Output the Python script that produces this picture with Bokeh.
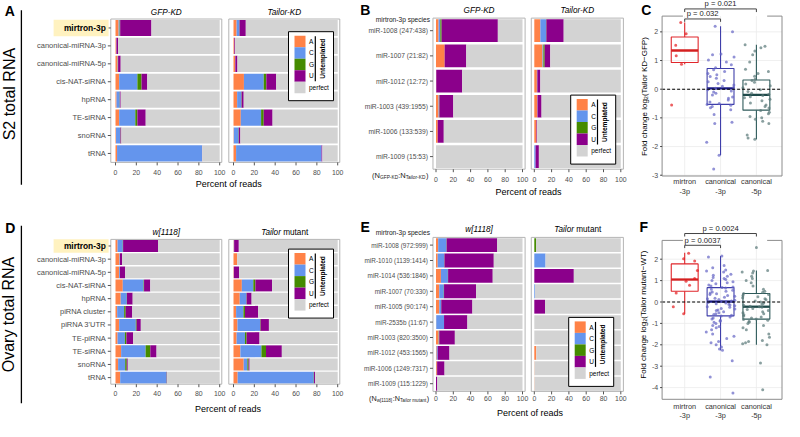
import math
from bokeh.plotting import figure
from bokeh.models import Range1d, ColumnDataSource
from bokeh.transform import jitter
from bokeh.embed import file_html
from bokeh.resources import INLINE
from bokeh.core.properties import value

# ---------------------------------------------------------------- data
s2_classes = ["mirtron-3p", "canonical-miRNA-3p", "canonical-miRNA-5p", "cis-NAT-siRNA",
              "hpRNA", "TE-siRNA", "snoRNA", "tRNA"]
s2_gfp_A = [3, 0.7, 2, 3.5, 1, 3.5, 0.5, 1.5]
s2_gfp_C = [1, 0.2, 0.3, 17.5, 3, 15.5, 4, 81.5]
s2_gfp_G = [0.5, 0, 0.2, 4, 0.2, 2, 0.3, 0]
s2_gfp_U = [30, 1.6, 2.5, 5.5, 0.8, 8, 0.8, 0.2]
s2_tkd_A = [3, 0.8, 1.5, 10, 3.5, 7, 0.3, 2.5]
s2_tkd_C = [2.5, 0, 0.3, 19, 4, 19.5, 4.5, 82]
s2_tkd_G = [0.3, 0, 0, 2.5, 0.3, 2.5, 0.3, 0]
s2_tkd_U = [6, 0.7, 2, 9.5, 2, 8.5, 1.5, 0.8]

s2_mirtrons = ["miR-1008 (247:438)", "miR-1007 (21:82)", "miR-1012 (12:72)",
               "miR-1003 (439:1955)", "miR-1006 (133:539)", "miR-1009 (15:53)"]
s2m_gfp_A = [3, 10, 0.3, 3, 2, 0]
s2m_gfp_C = [2, 0, 0, 0.5, 0, 0]
s2m_gfp_G = [1.5, 0, 0, 0.5, 0, 0]
s2m_gfp_U = [65, 25, 30, 16, 7, 0]
s2m_tkd_A = [7, 9.5, 3, 3.4, 2.5, 0]
s2m_tkd_C = [6.5, 1, 0.5, 0.3, 0, 1.5]
s2m_tkd_G = [0.5, 1.5, 0, 0, 0, 0]
s2m_tkd_U = [20, 6.5, 3.5, 4.7, 0.8, 3.8]

ov_classes = ["mirtron-3p", "canonical-miRNA-3p", "canonical-miRNA-5p", "cis-NAT-siRNA",
              "hpRNA", "piRNA cluster", "piRNA 3'UTR", "TE-piRNA", "TE-siRNA", "snoRNA", "tRNA"]
ov_wt_A = [2, 3.8, 3.5, 7, 5, 1.6, 3.5, 2, 5.4, 2.5, 4.5]
ov_wt_C = [5, 0.5, 0.8, 20, 5.8, 6.7, 16, 7, 23.5, 6.8, 44.5]
ov_wt_G = [0.3, 0, 0, 0.4, 0.2, 1.5, 0.8, 1.5, 4.5, 1.5, 0.2]
ov_wt_U = [33.5, 2, 5, 6, 5.5, 6.3, 4, 6.5, 6, 1, 0.3]
ov_tm_A = [0.3, 3.5, 0.3, 8, 6, 2.5, 3.8, 3, 6.6, 9.8, 4]
ov_tm_C = [0.3, 0, 0, 11, 6.3, 7, 21.7, 8, 20.2, 3.5, 73]
ov_tm_G = [0, 0, 0, 2, 0.3, 1.5, 0.5, 1.6, 4.4, 1.2, 0.3]
ov_tm_U = [4.5, 0, 5, 16, 4.8, 12.7, 8, 12.4, 15.2, 1, 1]

ov_mirtrons = ["miR-1008 (972:999)", "miR-1010 (1139:1414)", "miR-1014 (536:1846)",
               "miR-1007 (70:330)", "miR-1005 (90:174)", "miR-2535b (11:67)",
               "miR-1003 (820:3500)", "miR-1012 (453:1565)", "miR-1006 (1249:7317)",
               "miR-1009 (115:1229)"]
ovm_wt_A = [2.5, 2, 5.7, 3.8, 3.8, 0.3, 3, 0.8, 1, 0]
ovm_wt_C = [9.5, 7.5, 8, 5.2, 2, 9, 0.3, 1.2, 0.3, 0]
ovm_wt_G = [0.3, 0.3, 0.3, 0.3, 0.3, 0, 0.5, 0, 0, 0]
ovm_wt_U = [58.5, 57, 51.6, 37, 36, 27, 18, 13.6, 8.6, 1.5]
ovm_tm_A = [0, 0, 0, 0, 0, 0, 0, 2.3, 0.3, 0.3]
ovm_tm_C = [0, 13, 0, 0.8, 0, 0, 0, 0, 0, 0]
ovm_tm_G = [2, 0, 0, 0, 0, 0, 0, 0, 0, 0]
ovm_tm_U = [0, 0, 45.7, 0, 12.4, 0, 0, 0, 0, 0]

pct_ticks = [0, 20, 40, 60, 80, 100]
box_groups_1 = ["mirtron", "canonical", "canonical"]
box_groups_2 = ["-3p", "-3p", "-5p"]

# C: log2(Tailor KD / GFP)
c_mirtron = [2.33, 1.93, 1.53, 1.17, 0.87, -0.55]
c_canon3 = [2.2, 2.0, 1.23, 1.2, 1.12, 1.02, 0.95, 0.85, 0.75, 0.68, 0.62, 0.55, 0.5, 0.44,
            0.38, 0.3, 0.26, 0.2, 0.15, 0.1, 0.06, 0.03, -0.02, -0.06, -0.1, -0.14, -0.2,
            -0.27, -0.32, -0.38, -0.45, -0.5, -0.53, -0.56, -0.6, -0.65, -0.72, -0.88,
            -1.15, -1.2, -1.85, -2.3, -2.78]
c_canon5 = [1.55, 1.5, 1.45, 1.33, 1.2, 0.95, 0.7, 0.62, 0.55, 0.45, 0.35, 0.3, 0.24, 0.18,
            0.12, 0.05, -0.02, -0.08, -0.14, -0.18, -0.22, -0.26, -0.3, -0.35, -0.4, -0.48,
            -0.55, -0.6, -0.66, -0.74, -0.8, -0.86, -0.95, -1.0, -1.05, -1.12, -1.2, -1.6,
            -1.7, -1.75]
c_q1 = [0.93, -0.53, -0.73]
c_med = [1.35, 0.03, -0.2]
c_q3 = [1.82, 0.72, 0.32]
c_lo = [0.87, -2.3, -1.75]
c_hi = [2.33, 2.2, 1.55]
c_yticks = [-3, -2, -1, 0, 1, 2]
c_pvals = ["p = 0.032", "p = 0.021"]

# F: log2(Tailor mutant / WT)
f_mirtron = [2.28, 2.02, 1.92, 1.47, 1.1, 0.97, 0.78, 0.42, -0.22, -0.55]
f_canon3 = [2.15, 2.1, 1.7, 1.6, 1.5, 1.45, 1.4, 1.3, 1.25, 1.2, 1.15, 1.1, 1.05, 1.0, 0.95,
            0.9, 0.85, 0.8, 0.75, 0.7, 0.68, 0.65, 0.6, 0.55, 0.5, 0.47, 0.42, 0.38, 0.35,
            0.3, 0.27, 0.22, 0.18, 0.15, 0.12, 0.08, 0.05, 0.03, 0.01, -0.02, -0.05, -0.08,
            -0.1, -0.14, -0.18, -0.22, -0.25, -0.3, -0.33, -0.37, -0.4, -0.45, -0.5, -0.55,
            -0.58, -0.62, -0.66, -0.7, -0.75, -0.8, -0.85, -0.9, -0.95, -1.0, -1.1, -1.15,
            -1.2, -1.3, -1.4, -1.5, -1.6, -1.7, -1.85, -1.9, -2.0, -2.1, -2.2, -2.25,
            -2.75, -3.5, -4.25]
f_canon5 = [2.55, 1.47, 1.45, 1.4, 1.35, 1.2, 1.1, 1.0, 0.9, 0.75, 0.6, 0.5, 0.45, 0.4,
            0.35, 0.3, 0.25, 0.2, 0.15, 0.1, 0.05, 0.0, -0.05, -0.1, -0.15, -0.2, -0.22,
            -0.25, -0.3, -0.35, -0.4, -0.45, -0.5, -0.55, -0.6, -0.65, -0.7, -0.75, -0.8,
            -0.82, -0.85, -0.9, -0.95, -1.0, -1.1, -1.2, -1.3, -1.5, -1.65, -1.8, -1.85,
            -1.9, -1.95, -2.0, -2.85, -4.1]
f_q1 = [0.5, -0.65, -0.8]
f_med = [1.05, 0.02, -0.22]
f_q3 = [1.78, 0.67, 0.4]
f_lo = [-0.55, -2.25, -2.0]
f_hi = [2.3, 2.15, 1.47]
f_yticks = [-4, -3, -2, -1, 0, 1, 2]
f_pvals = ["p = 0.0037", "p = 0.0024"]

# ---------------------------------------------------------------- style
FONT = "Liberation Sans"
NUCS = ["A", "C", "G", "U"]
NUC_COLORS = ["#FF8247", "#6495ED", "#458B00", "#8B008B"]
PERFECT_COLOR = "#D3D3D3"
FRAME = "#b4b4b4"
BOXFRAME = "#8c8c8c"
TICK_TEXT = "#4D4D4D"
HILITE = "#FFF2C0"
BOX_LINE = ["#E0262B", "#3F3FAA", "#2E5A5A"]
BOX_MED = ["#D42020", "#1C1C8A", "#1E4A4A"]
PT_COL = ["#E41A1C", "#6464C4", "#587878"]

AFM = {' ': 278, '(': 333, ')': 333, ':': 278, '[': 278, ']': 278, '-': 333, 'N': 722,
       'G': 778, 'F': 611, 'P': 667, 'K': 667, 'D': 722, 'T': 611, 'a': 556, 'i': 222,
       'l': 222, 'o': 556, 'r': 333, 'w': 722, 'm': 833, 'u': 556, 't': 278, 'n': 556}

W, H = 784, 421
# one canvas; the default ranges are page pixels (y downwards), every panel gets
# its own named ranges so that its data go through Bokeh's own scales
p = figure(width=W, height=H, title=None, x_range=Range1d(0, W), y_range=Range1d(H, 0),
           x_axis_type=None, y_axis_type=None, output_backend="svg",
           toolbar_location=None, min_border=0)
p.outline_line_color = None
p.background_fill_color = "white"
p.border_fill_color = "white"


def text_w(s, size):
    return sum(AFM.get(ch, 556) for ch in s) * size / 1000.0


def add_x_range(name, d0, d1, px0, px1):
    s = (d1 - d0) / (px1 - px0)
    start = d0 - px0 * s
    p.extra_x_ranges[name] = Range1d(start, start + W * s)


def add_y_range(name, v0, v1, py0, py1):
    s = (v1 - v0) / (py1 - py0)
    at = lambda py: v0 + (py - py0) * s
    p.extra_y_ranges[name] = Range1d(at(H), at(0))


def as_list(v, n=None):
    v = v if isinstance(v, list) else [v]
    if n is not None and len(v) == 1:
        v = v * n
    return v


def T(xs, ys, texts, size, xr="default", yr="default", align="left", base="middle",
      style="normal", color="black", angle=0.0):
    texts = as_list(texts)
    n = len(texts)
    p.text(x=as_list(xs, n), y=as_list(ys, n), text=texts, text_font=value(FONT),
           text_font_size=f"{size}px", text_align=align, text_baseline=base,
           text_font_style=style, text_color=color, angle=angle,
           x_range_name=xr, y_range_name=yr)


def nuc_legend(lx, ly):
    LW, LH, sq = 45, 69, 11.5
    p.quad(left=[lx], right=[lx + LW], top=[ly], bottom=[ly + LH], fill_color="white",
           line_color="black", line_width=1)
    tops = [ly + 4 + i * sq for i in range(5)]
    p.quad(left=[lx + 6] * 5, right=[lx + 17] * 5, top=tops, bottom=[t + sq for t in tops],
           fill_color=NUC_COLORS + [PERFECT_COLOR], line_color=None)
    T(lx + 20.5, [t + sq / 2 for t in tops], NUCS + ["perfect"], 6.5)
    p.segment(x0=[lx + 26.8], y0=[ly + 4.5], x1=[lx + 26.8], y1=[ly + 4 + 4 * sq - 0.5],
              line_color="black", line_width=1.2)
    T(lx + 33.6, ly + 4 + 2 * sq, "Untemplated", 6.6, align="center", style="bold",
      angle=math.pi / 2)


def add_bars(n, vals, offset, xr, yr):
    ys, ls, rs, cs = [], [], [], []
    for i in range(n):
        parts = [v[i] for v in vals]
        parts.append(100 - sum(parts))
        cum = 0.0
        for val, col in zip(parts, NUC_COLORS + [PERFECT_COLOR]):
            if val > 0:
                ys.append(n - 1 - i)
                ls.append(offset + cum)
                rs.append(offset + cum + val)
                cs.append(col)
            cum += val
    p.hbar(y=ys, left=ls, right=rs, height=0.9, fill_color=cs, line_color=None,
           x_range_name=xr, y_range_name=yr)


def bar_pair(key, cats, vals1, vals2, k, z1, z2, top, bot, fr, cat_size, cat_right,
             tick_py, pct_xy, title_py, titles, legend_xy, hl=None):
    n = len(cats)
    xr, yr = key + "x", key + "y"
    add_x_range(xr, 0, 100, z1, z1 + 100 * k)
    rowpx = (bot - top) / n
    add_y_range(yr, n - 0.5, -0.5, top, bot)
    off2 = (z2 - z1) / k
    offs = [0.0, off2]
    add_bars(n, vals1, offs[0], xr, yr)
    add_bars(n, vals2, offs[1], xr, yr)
    p.quad(left=[o + fr[0] for o in offs], right=[o + fr[1] for o in offs],
           bottom=[-0.5, -0.5], top=[n - 0.5, n - 0.5], fill_color=None,
           line_color=FRAME, line_width=1, x_range_name=xr, y_range_name=yr)
    # percent axis of both sub-panels
    tx = [o + t for o in offs for t in pct_ticks]
    p.segment(x0=tx, y0=[bot] * len(tx), x1=tx, y1=[bot + 3] * len(tx),
              line_color="#555555", line_width=1, x_range_name=xr)
    T(tx, tick_py, [str(t) for o in offs for t in pct_ticks], 6.9, xr=xr, align="center",
      color=TICK_TEXT)
    T(pct_xy[0], pct_xy[1], "Percent of reads", 9, align="center")
    # category axis of the left sub-panel
    rows = [n - 1 - i for i in range(n)]
    fl = z1 + fr[0] * k
    p.segment(x0=[fl] * n, y0=rows, x1=[fl - 3] * n, y1=rows, line_color="#555555",
              line_width=1, y_range_name=yr)
    first = 1 if hl is not None else 0
    if hl is not None:
        hx0, hx1, hh = hl
        p.quad(left=[hx0], right=[hx1], bottom=[rows[0] - hh / 2 / rowpx],
               top=[rows[0] + hh / 2 / rowpx], fill_color=HILITE, line_color=None,
               y_range_name=yr)
        T(cat_right, rows[0], cats[0], 8.4, yr=yr, align="right", style="bold",
          color="black")
    T(cat_right, rows[first:], cats[first:], cat_size, yr=yr, align="right",
      color=TICK_TEXT)
    # sub-panel titles
    for o, parts in zip(offs, titles):
        cx = o + (fr[0] + fr[1]) / 2
        if len(parts) == 1:
            T(cx, title_py, parts[0], 8.2, xr=xr, align="center", style="italic")
        else:
            T(cx - 3.4 / k, title_py, parts[0], 8.2, xr=xr, align="right", style="italic")
            T(cx - 1.1 / k, title_py, parts[1], 8.2, xr=xr, align="left")
    nuc_legend(*legend_xy)


def ratio_label(px, py, parts, main, sub):
    x = px
    for text, is_sub in parts:
        size = sub if is_sub else main
        T(x, py + (2.2 if is_sub else 0), text, size, color="#222222")
        x += text_w(text, size)


def row_label(letter, lxy, label, txy, line_x, ly0, ly1):
    T(lxy[0], lxy[1], letter, 14, align="center", style="bold")
    T(txy[0], txy[1], label, 16, align="center", angle=math.pi / 2)
    p.segment(x0=[line_x], y0=[ly0], x1=[line_x], y1=[ly1], line_color="black",
              line_width=1.3)


def box_panel(key, pts, q1, med, q3, lo, hi, yticks, zero_py, unit_px, frame_l, frame_r,
              frame_top_py, frame_bot_py, lab_py, brackets, letter, letter_xy, ylabel,
              ylabel_xy):
    xr, yr = key + "x", key + "y"
    x1px, xunit = 684.2, 35.85
    add_x_range(xr, 1, 2, x1px, x1px + xunit)
    add_y_range(yr, 0, 1, zero_py, zero_py - unit_px)
    xl = 1 + (frame_l - x1px) / xunit
    xrr = 1 + (frame_r - x1px) / xunit
    vtop = (zero_py - frame_top_py) / unit_px
    vbot = (zero_py - frame_bot_py) / unit_px
    xs = [1, 2, 3]
    R = dict(x_range_name=xr, y_range_name=yr)
    # grid
    p.segment(x0=[xl] * len(yticks), y0=yticks, x1=[xrr] * len(yticks), y1=yticks,
              line_color="#EBEBEB", line_width=0.8, **R)
    p.segment(x0=xs, y0=[vbot] * 3, x1=xs, y1=[vtop] * 3, line_color="#EBEBEB",
              line_width=0.8, **R)
    # boxes
    bw = 0.75
    p.segment(x0=xs, y0=q3, x1=xs, y1=hi, line_color=BOX_LINE, line_width=1.1, **R)
    p.segment(x0=xs, y0=q1, x1=xs, y1=lo, line_color=BOX_LINE, line_width=1.1, **R)
    p.vbar(x=xs, width=bw, top=q3, bottom=q1, fill_color=None, line_color=BOX_LINE,
           line_width=1.1, **R)
    p.segment(x0=[x - bw / 2 for x in xs], y0=med, x1=[x + bw / 2 for x in xs], y1=med,
              line_color=BOX_MED, line_width=2.3, **R)
    px_, py_, pc = [], [], []
    for i, vals in enumerate(pts):
        px_ += [xs[i]] * len(vals)
        py_ += vals
        pc += [PT_COL[i]] * len(vals)
    src = ColumnDataSource(dict(x=px_, y=py_, c=pc))
    p.scatter(x=jitter("x", width=0.8), y="y", size=3, fill_color="c", line_color=None,
              fill_alpha=0.7, source=src, **R)
    p.segment(x0=[xl], y0=[0], x1=[xrr], y1=[0], line_color="black", line_dash="3 2",
              line_width=1.1, **R)
    # panel border (top only at the corners)
    p.segment(x0=[xl, xl, xrr, xl, 3.3], y0=[vbot, vbot, vbot, vtop, vtop],
              x1=[xl, xrr, xrr, 0.95, xrr], y1=[vtop, vbot, vtop, vtop, vtop],
              line_color=BOXFRAME, line_width=1, **R)
    # y axis ticks and labels
    p.segment(x0=[frame_l] * len(yticks), y0=yticks, x1=[frame_l - 2] * len(yticks),
              y1=yticks, line_color="#444444", line_width=1, y_range_name=yr)
    T(frame_l - 4, yticks, [str(t) for t in yticks], 7, yr=yr, align="right",
      color=TICK_TEXT)
    # category labels
    T(xs, lab_py[0], box_groups_1, 7.3, xr=xr, align="center", color="#333333")
    T(xs, lab_py[1], box_groups_2, 7.3, xr=xr, align="center", color="#333333")
    # significance brackets
    for (a, b, yl, yt, ytext), text in brackets:
        p.segment(x0=[a, a, b], y0=[yl, yl, yl], x1=[b, a, b], y1=[yl, yt, yt],
                  line_color="#444444", line_width=1, **R)
        T((a + b) / 2, ytext, text, 7.6, xr=xr, yr=yr, align="center", color="#222222")
    T(letter_xy[0], letter_xy[1], letter, 14, align="center", style="bold")
    T(ylabel_xy[0], ylabel_xy[1], ylabel, 8, align="center", angle=math.pi / 2)


# ================================================================ TOP ROW
row_label("A", (9.3, 10.7), "S2 total RNA", (8.8, 93.6), 20.9, 9.75, 184.3)
bar_pair("a", s2_classes, (s2_gfp_A, s2_gfp_C, s2_gfp_G, s2_gfp_U),
         (s2_tkd_A, s2_tkd_C, s2_tkd_G, s2_tkd_U), 1.042, 115.0, 233.0, 18.5, 161.9,
         (-4.5, 102), 7.5, 105.3, 171.6, (228.3, 183.3), 11.7,
         [["GFP-KD"], ["Tailor-KD"]], (288, 31.2), hl=(53.1, 108.1, 16.5))

bar_pair("b", s2_mirtrons, (s2m_gfp_A, s2m_gfp_C, s2m_gfp_G, s2m_gfp_U),
         (s2m_tkd_A, s2m_tkd_C, s2m_tkd_G, s2m_tkd_U), 0.865, 435.5, 533.8, 17.6, 168.7,
         (-3.5, 103), 6.7, 427.5, 179.4, (527.9, 191.1), 9.75,
         [["GFP-KD"], ["Tailor-KD"]], (570.2, 94.6))
T(364.7, 9.75, "B", 14, align="center", style="bold")
T(429.5, 18.8, "mirtron-3p species", 6.6, align="right", color="#222222")
ratio_label(371.6, 174.5, [("(N", False), ("GFP-KD", True), (":N", False),
                           ("Tailor-KD", True), (")", False)], 7.5, 4.8)

box_panel("c", [c_mirtron, c_canon3, c_canon5], c_q1, c_med, c_q3, c_lo, c_hi, c_yticks,
          88.7, 28.67, 661.6, 781.5, 15.6, 175.5, (181.4, 191.1),
          [((1, 2, 2.45, 2.35, 2.65), c_pvals[0]), ((1, 3, 2.8, 2.69, 2.99), c_pvals[1])],
          "C", (645.8, 9.75), "Fold change  log\u2082(Tailor KD\u2212GFP)", (643.8, 95.0))

# ================================================================ BOTTOM ROW
row_label("D", (9.8, 227.2), "Ovary total RNA", (8.4, 314.0), 20.9, 225.2, 402.7)
bar_pair("d", ov_classes, (ov_wt_A, ov_wt_C, ov_wt_G, ov_wt_U),
         (ov_tm_A, ov_tm_C, ov_tm_G, ov_tm_U), 1.042, 115.0, 233.0, 238.9, 383.7,
         (-4.5, 102), 7.5, 105.3, 392.6, (227.6, 408.5), 231.7,
         [["w[1118]"], ["Tailor", "mutant"]], (288, 248.6), hl=(53.1, 108.1, 13.4))

bar_pair("e", ov_mirtrons, (ovm_wt_A, ovm_wt_C, ovm_wt_G, ovm_wt_U),
         (ovm_tm_A, ovm_tm_C, ovm_tm_G, ovm_tm_U), 0.865, 435.5, 533.8, 236.9, 390.9,
         (-3.5, 103), 6.4, 427.5, 397.8, (529.6, 412.4), 229.4,
         [["w[1118]"], ["Tailor", "mutant"]], (568.2, 316.9))
T(364.7, 226.7, "E", 14, align="center", style="bold")
T(429.5, 232.0, "mirtron-3p species", 6.6, align="right", color="#222222")
ratio_label(368.6, 397.5, [("(N", False), ("w[1118]", True), (":N", False),
                           ("Tailor mutant", True), (")", False)], 7.2, 4.6)

box_panel("f", [f_mirtron, f_canon3, f_canon5], f_q1, f_med, f_q3, f_lo, f_hi, f_yticks,
          301.5, 21.4, 661.6, 781.5, 239.9, 398.8, (405.6, 415.4),
          [((1, 2, 2.65, 2.52, 2.88), f_pvals[0]), ((1, 3, 3.2, 3.06, 3.43), f_pvals[1])],
          "F", (643.4, 226.2), "Fold change  log\u2082(Tailor mutant\u2212WT)", (643.4, 313.0))

open("out.html", "w").write(file_html(p, INLINE))
